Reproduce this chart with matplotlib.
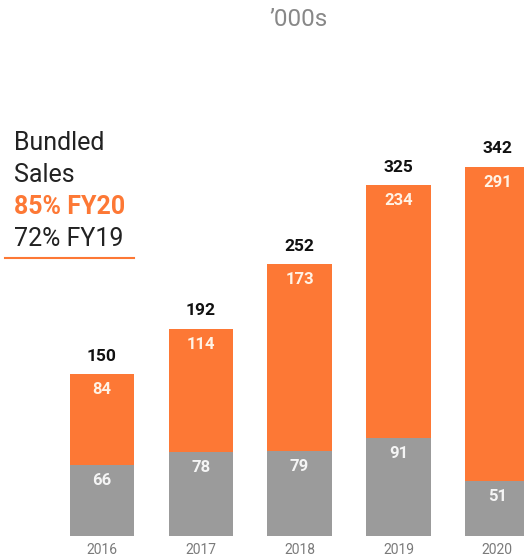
import matplotlib.pyplot as plt

years = ['2016', '2017', '2018', '2019', '2020']
bundled = [84, 114, 173, 234, 291]
other = [66, 78, 79, 91, 51]
totals = [150, 192, 252, 325, 342]

orange = '#FD7835'
grey = '#9B9B9B'

plt.rcParams['font.family'] = ['Roboto', 'DejaVu Sans']

fig = plt.figure(figsize=(5.24, 5.6), dpi=100)
ax = fig.add_axes([0, 24 / 560, 1, 536 / 560])

x = range(len(years))
ax.bar(x, other, width=0.65, color=grey)
ax.bar(x, bundled, width=0.65, bottom=other, color=orange)

for i in x:
    ax.annotate(str(totals[i]), (i, totals[i]), xytext=(0, 13), textcoords='offset points',
                ha='center', va='center', fontsize=12.5, fontweight='bold', color='#111111')
    ax.annotate(str(bundled[i]), (i, totals[i]), xytext=(0, -11), textcoords='offset points',
                ha='center', va='center', fontsize=12, fontweight='bold', color='#FFF3E6')
    ax.annotate(str(other[i]), (i, other[i]), xytext=(0, -11.5), textcoords='offset points',
                ha='center', va='center', fontsize=12, fontweight='bold', color='#F5F5F5')
    ax.annotate(years[i], (i, 0), xytext=(0, -10), textcoords='offset points',
                ha='center', va='center', fontsize=10, color='#7A7A7A')

ax.set_xlim(-1.03, 4.27)
ax.set_ylim(0, 536 / 1.079)
ax.axis('off')

fig.text(299 / 524, 1 - 20 / 560, '\u2019000s', ha='center', va='center', fontsize=17.5,
         color='#888888')

for label, yy, wt, col in [('Bundled', 143, 'normal', '#222222'),
                           ('Sales', 175, 'normal', '#222222'),
                           ('85% FY20', 207, 'bold', orange),
                           ('72% FY19', 239, 'normal', '#222222')]:
    fig.text(14 / 524, 1 - yy / 560, label, ha='left', va='center', fontsize=18,
             fontweight=wt, color=col)
fig.add_artist(plt.Line2D([5 / 524, 134 / 524], [1 - 258 / 560, 1 - 258 / 560], color=orange, lw=1.5))

fig.savefig('out.png', dpi=100)
